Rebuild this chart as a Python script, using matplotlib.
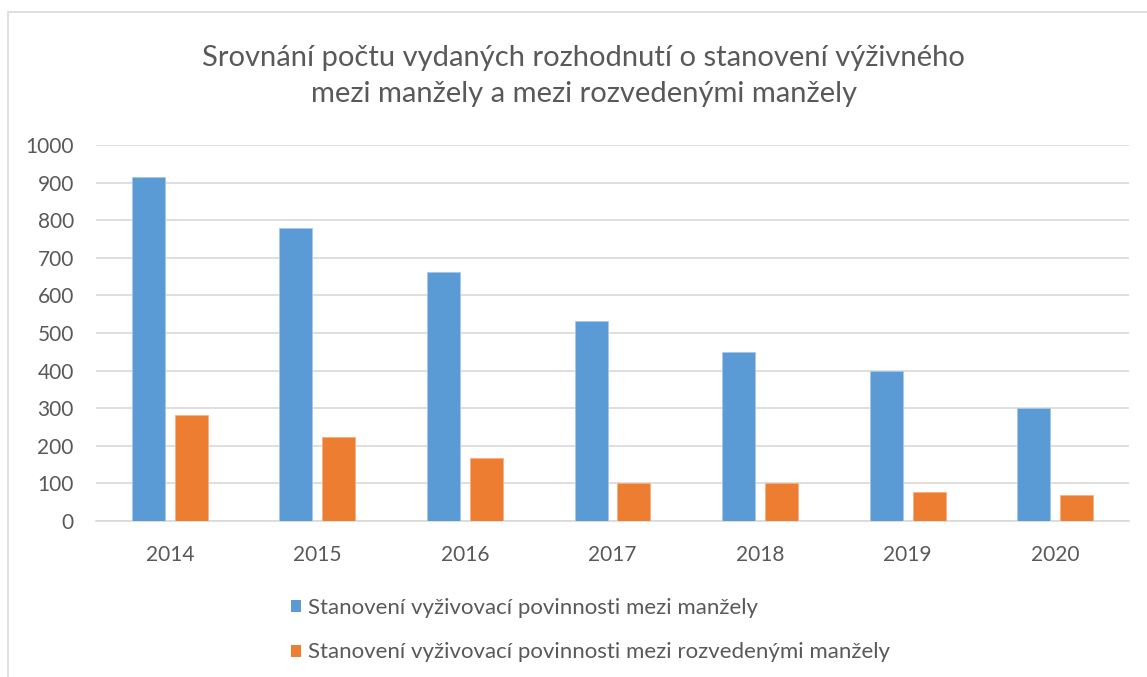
import numpy as np
import matplotlib
matplotlib.use("Agg")
from matplotlib import pyplot as plt
from matplotlib.patches import Patch, Rectangle

plt.rcParams['font.family'] = ['Lato', 'DejaVu Sans']

# data
years = ['2014', '2015', '2016', '2017', '2018', '2019', '2020']
manzele = [915, 779, 661, 532, 450, 400, 300]
rozvedeni = [282, 223, 168, 100, 100, 77, 68]

label_1 = 'Stanovení vyživovací povinnosti mezi manžely'
label_2 = 'Stanovení vyživovací povinnosti mezi rozvedenými manžely'
title = 'Srovnání počtu vydaných rozhodnutí o stanovení výživného\nmezi manžely a mezi rozvedenými manžely'

blue = '#5B9BD5'
orange = '#ED7D31'
grey_txt = '#595959'

fig = plt.figure(figsize=(11.47, 6.77), dpi=100)
ax = fig.add_axes([96/1147, 1-521/677, 1033/1147, 376/677])

x = np.arange(len(years))
w = 0.224
ax.bar(x - 0.145, manzele, w, color=blue, edgecolor='#a9c8ea', linewidth=0.6, zorder=3)
ax.bar(x + 0.145, rozvedeni, w, color=orange, edgecolor='#f4b183', linewidth=0.6, zorder=3)

ax.set_xlim(-0.5, len(years) - 0.5)
ax.set_ylim(0, 1000)
ax.set_yticks(range(0, 1001, 100))
ax.set_xticks(x)
ax.set_xticklabels(years)
ax.yaxis.grid(True, color='#d9d9d9', linewidth=1.2, zorder=0)
ax.set_axisbelow(True)
for s in ['top', 'right', 'left']:
    ax.spines[s].set_visible(False)
ax.spines['bottom'].set_color('#d9d9d9')
ax.spines['bottom'].set_linewidth(1.2)
ax.tick_params(axis='both', length=0, labelsize=15, labelcolor=grey_txt)
ax.tick_params(axis='y', pad=16)
ax.tick_params(axis='x', pad=17)

fig.text(0.509, 1-76/677, title, ha='center', va='center', fontsize=21,
         color=grey_txt, linespacing=1.5)

handles = [Patch(facecolor=blue), Patch(facecolor=orange)]
fig.legend(handles, [label_1, label_2], loc='upper left',
           bbox_to_anchor=(271/1147, 1-578/677), frameon=False,
           fontsize=16, labelcolor=grey_txt, handlelength=0.45,
           handleheight=0.45, handletextpad=0.3, labelspacing=1.1)

# outer chart border
fig.patches.append(Rectangle((8/1147, -0.05), 1.1, 1-12/677 + 0.05,
                             transform=fig.transFigure, fill=False,
                             edgecolor='#d9d9d9', linewidth=1.2))

fig.savefig('out.png', dpi=100)
